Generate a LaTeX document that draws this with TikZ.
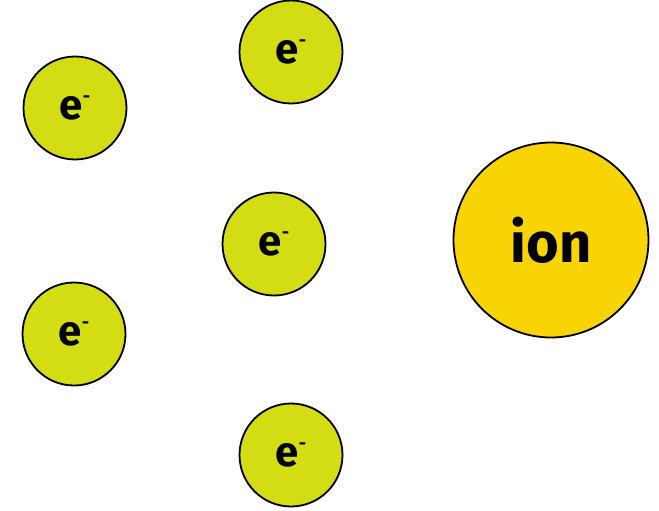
\documentclass[tikz,border=0pt]{standalone}
\usepackage{fontspec}
\setmainfont{Fira Sans}
\definecolor{elec}{HTML}{D4DC14}
\definecolor{ionc}{HTML}{F9D404}
\newcommand{\elab}{\fontsize{42}{42}\selectfont\bfseries e\raisebox{0.4em}{\fontsize{18}{18}\selectfont -}}
\begin{document}
\begin{tikzpicture}[x=1pt,y=-1pt,
  electron/.style={circle,draw=black,line width=1.8pt,fill=elec,minimum size=103pt,inner sep=0pt},
  ionbox/.style={circle,draw=black,line width=1.8pt,fill=ionc,minimum size=195pt,inner sep=0pt}]
\useasboundingbox (0,0) rectangle (659,511);
\node[electron] (e1) at (291,52) {\elab};
\node[electron] (e2) at (75,108) {\elab};
\node[electron] (e3) at (274,244) {\elab};
\node[electron] (e4) at (74,334) {\elab};
\node[electron] (e5) at (291,455) {\elab};
\node[ionbox] (ion) at (551,240) {\fontsize{56}{56}\selectfont\bfseries ion};
\end{tikzpicture}
\end{document}
